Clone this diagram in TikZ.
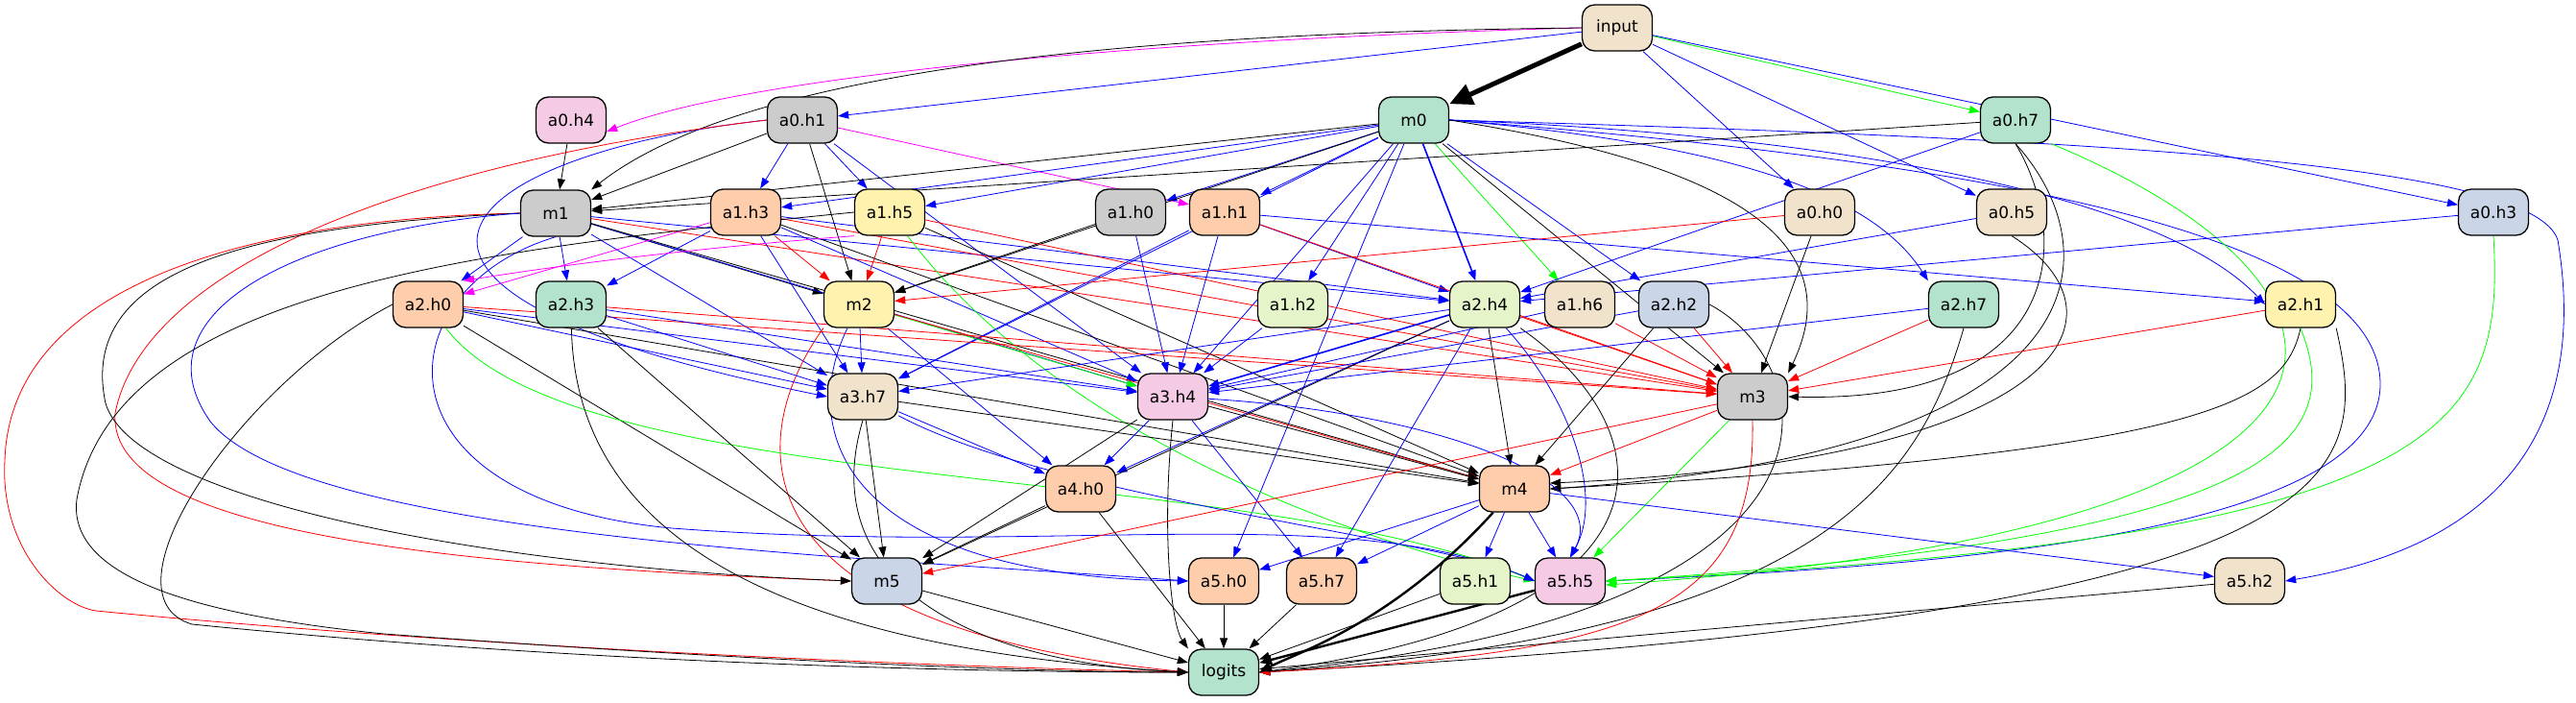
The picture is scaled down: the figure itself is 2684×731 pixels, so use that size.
\documentclass[tikz,border=0pt]{standalone}
\usepackage{fontspec}
\newfontfamily\nf{DejaVu Sans}
\usetikzlibrary{arrows.meta}
\pgfdeclarelayer{bg}
\pgfsetlayers{bg,main}
\definecolor{cG}{HTML}{B3E2CD}
\definecolor{cO}{HTML}{FDCDAC}
\definecolor{cB}{HTML}{CBD5E8}
\definecolor{cP}{HTML}{F4CAE4}
\definecolor{cL}{HTML}{E6F5C9}
\definecolor{cY}{HTML}{FFF2AE}
\definecolor{cT}{HTML}{F1E2CC}
\definecolor{cK}{HTML}{CCCCCC}
\definecolor{eB}{HTML}{0000FF}
\definecolor{eR}{HTML}{FF0000}
\definecolor{eG}{HTML}{00FF00}
\definecolor{eM}{HTML}{FF00FF}
\begin{document}
\begin{tikzpicture}[x=1pt,y=-1pt,
  nd/.style={draw=black, line width=1.3pt, rounded corners=13pt, minimum width=73pt, minimum height=48pt, inner sep=0pt, font=\nf\fontsize{17}{20}\selectfont},
  ed/.style={line width=0.8pt, -{Triangle[length=11pt,width=8pt]}},
  k/.style={ed, draw=black},
  bl/.style={ed, draw=eB},
  rd/.style={ed, draw=eR},
  gr/.style={ed, draw=eG},
  mg/.style={ed, draw=eM}]
\useasboundingbox (0,0) rectangle (2684,731);
% nodes
\node[nd, fill=cT] (input) at (1685,29) {input};
\node[nd, fill=cG] (m0) at (1473,125) {m0};
\node[nd, fill=cP] (a0h4) at (595,125) {a0.h4};
\node[nd, fill=cK] (a0h1) at (836,125) {a0.h1};
\node[nd, fill=cG] (a0h7) at (2100,125) {a0.h7};
\node[nd, fill=cK] (m1) at (579,222) {m1};
\node[nd, fill=cO] (a1h3) at (777,221) {a1.h3};
\node[nd, fill=cY] (a1h5) at (927,221) {a1.h5};
\node[nd, fill=cK] (a1h0) at (1178,221) {a1.h0};
\node[nd, fill=cO] (a1h1) at (1276,221) {a1.h1};
\node[nd, fill=cT] (a0h0) at (1896,221) {a0.h0};
\node[nd, fill=cT] (a0h5) at (2096,221) {a0.h5};
\node[nd, fill=cB] (a0h3) at (2598,221) {a0.h3};
\node[nd, fill=cO] (a2h0) at (446,317) {a2.h0};
\node[nd, fill=cG] (a2h3) at (595,317) {a2.h3};
\node[nd, fill=cY] (m2) at (895,317) {m2};
\node[nd, fill=cL] (a1h2) at (1347,317) {a1.h2};
\node[nd, fill=cL] (a2h4) at (1547,317) {a2.h4};
\node[nd, fill=cT] (a1h6) at (1646,317) {a1.h6};
\node[nd, fill=cB] (a2h2) at (1744,317) {a2.h2};
\node[nd, fill=cG] (a2h7) at (2046,317) {a2.h7};
\node[nd, fill=cY] (a2h1) at (2397,317) {a2.h1};
\node[nd, fill=cT] (a3h7) at (899,413) {a3.h7};
\node[nd, fill=cP] (a3h4) at (1222,413) {a3.h4};
\node[nd, fill=cK] (m3) at (1826,413) {m3};
\node[nd, fill=cO] (a4h0) at (1126,509) {a4.h0};
\node[nd, fill=cO] (m4) at (1578,509) {m4};
\node[nd, fill=cB] (m5) at (924,605) {m5};
\node[nd, fill=cO] (a5h0) at (1275,605) {a5.h0};
\node[nd, fill=cO] (a5h7) at (1377,605) {a5.h7};
\node[nd, fill=cL] (a5h1) at (1537,605) {a5.h1};
\node[nd, fill=cP] (a5h5) at (1636,605) {a5.h5};
\node[nd, fill=cT] (a5h2) at (2344,605) {a5.h2};
\node[nd, fill=cG] (logits) at (1275,700) {logits};
\begin{pgfonlayer}{bg}
% input
\draw[draw=black, line width=5pt, -{Triangle[length=24pt,width=22pt]}] (input) -- (m0);
\draw[mg] (input.west) .. controls (1300,38) and (800,70) .. ([yshift=-12pt]a0h4.east);
\draw[k] (input.west) .. controls (1100,35) and (760,85) .. (m1.north east);
\draw[bl] (input) -- (a0h1);
\draw[bl] (input) -- (a0h0);
\draw[bl] (input) -- (a0h5);
\draw[gr] (input) -- (a0h7);
\draw[bl] (input) -- (a0h3);
% a0.h4
\draw[k] (a0h4) -- (m1);
% a0.h1
\draw[k] (a0h1) -- (m1);
\draw[bl] (a0h1) -- (a1h3);
\draw[bl] (a0h1) -- (a1h5);
\draw[mg] (a0h1) -- (a1h1);
\draw[k] (a0h1) -- (m2);
\draw[bl] (a0h1) -- (a3h4);
\draw[bl] (a0h1.west) .. controls (480,160) and (300,300) .. (a3h7.west);
\draw[rd] (a0h1.west) .. controls (420,170) and (150,280) .. (120,430) .. controls (110,560) and (500,590) .. (m5.west);
% m0
\draw[k] (m0) -- (m1);
\draw[bl] (m0) -- (a1h3);
\draw[bl] (m0) -- (a1h5);
\draw[bl] (m0) -- (a1h0);
\draw[bl] (m0) -- (a1h1);
\draw[bl] (m0) -- (a1h2);
\draw[bl, line width=1.6pt] (m0) -- (a2h4);
\draw[gr] (m0) -- (a1h6);
\draw[bl] (m0) -- (a2h2);
\draw[bl] (m0.east) .. controls (1800,150) and (1950,200) .. (a2h7.north west);
\draw[bl] (m0.east) .. controls (1900,140) and (2250,200) .. (a2h1.west);
\draw[bl] (m0.east) .. controls (2200,145) and (2640,170) .. (2665,250) .. controls (2690,400) and (2650,560) .. (a5h2.east);
\draw[bl] (m0.east) .. controls (2100,170) and (2480,250) .. (2480,400) .. controls (2480,560) and (2000,590) .. (a5h5.east);
\draw[k] (m0) -- (m2);
\draw[bl] (m0) -- (a3h7);
\draw[bl] (m0) -- (a3h4);
\draw[bl] (m0) -- (a5h0);
\draw[k] (m0) -- (m3);
\draw[k] (m0.east) .. controls (1800,170) and (1930,250) .. (m3.north east);
% a0.h7
\draw[k] (a0h7) -- (m1);
\draw[bl] (a0h7) -- (a2h4);
\draw[k] (a0h7.south) .. controls (2160,250) and (2150,420) .. (m3.east);
\draw[k] (a0h7.south) .. controls (2200,260) and (2200,470) .. (m4.east);
\draw[gr] (a0h7.south east) .. controls (2500,300) and (2540,550) .. ([yshift=-4pt]a5h5.east);
% a0.h0 / a0.h5 / a0.h3
\draw[rd] (a0h0) -- (m2);
\draw[k] (a0h0) -- (m3);
\draw[bl] (a0h5) -- (a2h4);
\draw[k] (a0h5.south) .. controls (2230,330) and (2150,480) .. ([yshift=6pt]m4.east);
\draw[bl] (a0h3) -- (a2h4);
\draw[gr] (a0h3.south) .. controls (2610,450) and (2550,560) .. (a5h5.east);
% m1
\draw[bl] (m1) -- (a2h0);
\draw[bl] (m1) -- (a2h3);
\draw[k] (m1) -- (m2);
\draw[bl] (m1) -- (a3h7);
\draw[bl] (m1) -- (a3h4);
\draw[bl] (m1) -- (a2h4);
\draw[rd] (m1) -- (m3);
\draw[k] (m1) -- (m4);
\draw[rd] (m1.west) .. controls (250,228) and (10,300) .. (5,480) .. controls (0,570) and (60,630) .. (100,636) .. controls (500,675) and (1000,695) .. (logits.west);
\draw[k] (m1.west) .. controls (260,235) and (80,280) .. (110,420) .. controls (140,520) and (500,590) .. (m5.west);
\draw[bl] (m1.west) .. controls (300,240) and (140,330) .. (220,440) .. controls (320,560) and (900,580) .. (a5h0.west);
\draw[bl] (m1.south) .. controls (400,300) and (380,520) .. (700,550) .. controls (1100,580) and (1400,520) .. (a5h5.west);
% a1.h3
\draw[mg] (a1h3) -- (a2h0);
\draw[bl] (a1h3) -- (a2h3);
\draw[rd] (a1h3) -- (m2);
\draw[bl] (a1h3) -- (a2h4);
\draw[bl] (a1h3) -- (a3h4);
\draw[bl] (a1h3) -- (a3h7);
\draw[k] (a1h3) -- (m4);
\draw[rd] (a1h3) -- (m3);
% a1.h5
\draw[rd] (a1h5) -- (m2);
\draw[rd] (a1h5) -- (m3);
\draw[mg] (a1h5.south west) .. controls (700,260) and (560,280) .. (a2h0.north east);
\draw[gr] (a1h5) .. controls (1100,450) and (1400,560) .. (a5h5.west);
\draw[k] (a1h5.west) .. controls (500,260) and (120,300) .. (80,520) .. controls (70,600) and (200,640) .. (400,660) .. controls (800,690) and (1100,700) .. (logits.west);
\draw[k] (a1h5) -- (m4);
% a1.h0
\draw[k] (a1h0) -- (m2);
\draw[bl] (a1h0) -- (a3h4);
% a1.h1
\draw[bl] (a1h1) -- (a3h7);
\draw[bl] (a1h1) -- (a3h4);
\draw[bl] (a1h1) -- (a2h4);
\draw[bl] (a1h1) -- (a2h1);
\draw[rd] (a1h1) -- (m3);
% a1.h2 / a1.h6
\draw[bl] (a1h2) -- (a3h4);
\draw[rd] (a1h6) -- (m3);
\draw[bl] (a1h6) -- (a3h4);
% m2
\draw[bl] (m2) -- (a3h7);
\draw[gr] (m2) -- (a3h4);
\draw[rd] (m2) -- (m4);
\draw[bl] (m2) -- (a4h0);
\draw[rd] (m2.south west) .. controls (780,450) and (750,650) .. (logits.west);
\draw[bl] (m2) .. controls (830,450) and (880,600) .. (a5h0.west);
% a2.h0
\draw[bl] (a2h0) -- (a3h7);
\draw[bl] (a2h0) -- (a3h4);
\draw[rd] (a2h0) -- (m3);
\draw[k] (a2h0) -- (m4);
\draw[k] (a2h0) -- (m5);
\draw[k] (a2h0.west) .. controls (250,400) and (100,620) .. (200,650) .. controls (600,690) and (1000,700) .. (logits.west);
\draw[gr] (a2h0) .. controls (600,520) and (1300,480) .. (a5h5.west);
% a2.h3
\draw[bl] (a2h3) -- (a3h4);
\draw[bl] (a2h3) -- (a3h7);
\draw[rd] (a2h3) -- (m3);
\draw[k] (a2h3) -- (m5);
\draw[k] (a2h3) .. controls (600,600) and (900,680) .. (logits.west);
% a2.h4
\draw[bl] (a2h4) -- (a3h7);
\draw[bl, line width=1.6pt] (a2h4) -- (a3h4);
\draw[rd] (a2h4) -- (m3);
\draw[k] (a2h4) -- (m4);
\draw[bl] (a2h4) -- (a4h0);
\draw[k] (a2h4) -- (m5);
\draw[bl] (a2h4) -- (a5h7);
\draw[bl] (a2h4) .. controls (1640,420) and (1670,520) .. (a5h5.north);
\draw[k] (a2h4.south east) .. controls (1740,450) and (1760,640) .. (logits.east);
% a2.h2
\draw[bl] (a2h2) -- (a3h4);
\draw[rd] (a2h2) -- (m3);
\draw[k] (a2h2) -- (m4);
\draw[k] (a2h2.east) .. controls (1900,380) and (1960,640) .. (logits.east);
% a2.h7
\draw[rd] (a2h7) -- (m3);
\draw[bl] (a2h7) -- (a3h4);
\draw[k] (a2h7.south) .. controls (2000,500) and (1900,660) .. (logits.east);
% a2.h1
\draw[rd] (a2h1) -- (m3);
\draw[k] (a2h1.south) .. controls (2380,420) and (2300,470) .. (m4.east);
\draw[gr] (a2h1.south) .. controls (2440,450) and (2400,560) .. (a5h5.east);
\draw[k] (a2h1.south east) .. controls (2470,500) and (2460,640) .. (logits.east);
% a3.h7
\draw[k] (a3h7) -- (m4);
\draw[bl] (a3h7) -- (a4h0);
\draw[k] (a3h7) -- (m5);
\draw[bl] (a3h7) .. controls (1100,520) and (1500,560) .. (a5h5.west);
\draw[k] (a3h7.south) .. controls (850,600) and (1000,690) .. (logits.west);
% a3.h4
\draw[k] (a3h4) -- (m4);
\draw[bl] (a3h4) -- (a4h0);
\draw[k] (a3h4) -- (m5);
\draw[bl] (a3h4) -- (a5h7);
\draw[bl] (a3h4) .. controls (1500,430) and (1680,500) .. (a5h5.north);
\draw[k] (a3h4.south) .. controls (1210,550) and (1220,650) .. (logits.north west);
% m3
\draw[rd] (m3) -- (m4);
\draw[rd] (m3) -- (m5);
\draw[gr] (m3) -- (a5h5);
\draw[rd] (m3.south) .. controls (1830,640) and (1700,680) .. (logits.east);
% m4
\draw[bl] (m4) -- (a5h0);
\draw[bl] (m4) -- (a5h7);
\draw[bl] (m4) -- (a5h1);
\draw[bl] (m4) -- (a5h5);
\draw[bl] (m4) -- (a5h2);
\draw[draw=black, line width=2.4pt, -{Triangle[length=13pt,width=10pt]}] (m4) .. controls (1450,650) and (1350,680) .. (logits.east);
% a4.h0
\draw[k] (a4h0) -- (m5);
\draw[k] (a4h0) -- (logits);
% layer 5
\draw[k] (m5) -- (logits);
\draw[k] (a5h0) -- (logits);
\draw[k] (a5h7) -- (logits);
\draw[k] (a5h1) -- (logits);
\draw[draw=black, line width=2.4pt, -{Triangle[length=13pt,width=10pt]}] (a5h5) -- (logits);
\draw[k] (a5h2) -- (logits);
\end{pgfonlayer}
\end{tikzpicture}
\end{document}
